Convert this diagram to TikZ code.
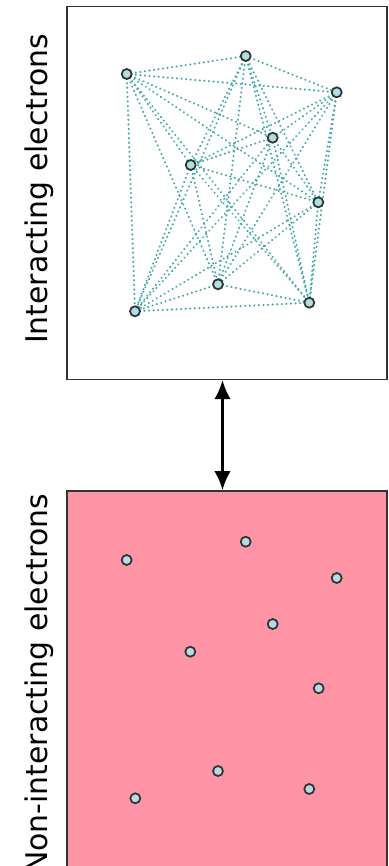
\documentclass[tikz,border=0pt]{standalone}
\usepackage{fontspec}
\setmainfont{DejaVu Sans}
\usepackage{tikz}
\usetikzlibrary{arrows.meta}
\definecolor{linkteal}{RGB}{62,168,170}
\definecolor{elecfill}{RGB}{172,224,228}
\definecolor{boxpink}{RGB}{255,148,166}

\begin{document}
\begin{tikzpicture}[
    % GLOBAL CFG
    x=0.02cm, y=-0.02cm,
    >=Latex,
    % Styles
    box/.style={% For the two frames
        rectangle,
        draw=black!80,
        line width=0.8pt,
        minimum width=6.4cm,
        },
    elec/.style={% For the electrons
        circle,
        draw=black!80,
        line width=1pt,
        fill=elecfill,
        minimum size=0.2cm,
        inner sep=0pt,
        },
    link/.style={% Dotted interaction lines
        draw=linkteal,
        line width=1.3pt,
        line cap=round,
        dash pattern=on 0.01pt off 2.6pt,
        },
    side/.style={% Rotated titles
        rotate=90,
        anchor=base,
        font=\fontsize{17}{20}\selectfont,
        },
    ]

    \useasboundingbox (0,0) rectangle (389,866);
    \clip (0,0) rectangle (389,866);

    % Draw the frames
    \node [box, fill=white, minimum height=7.45cm] (inter) at (227,193) {};
    \node [box, fill=boxpink, minimum height=7.62cm] (noninter) at (227,681.5) {};

    % Titles
    \node [side] (tinter) at (48,189) {Interacting electrons};
    \node [side] (tnoninter) at (48,684) {Non-interacting electrons};

    % Interacting electrons named e#
    \coordinate (e1) at (126.7,74);
    \coordinate (e2) at (245.7,56);
    \coordinate (e3) at (336.7,92.3);
    \coordinate (e4) at (272.7,137.7);
    \coordinate (e5) at (190.7,165);
    \coordinate (e6) at (318.3,202.3);
    \coordinate (e7) at (218,284.3);
    \coordinate (e8) at (309.3,302.7);
    \coordinate (e9) at (135,311.3);

    % Every pair interacts
    \foreach \i [evaluate=\i as \k using int(\i+1)] in {1,...,8}
        \foreach \j in {\k,...,9}
            \draw [link] (e\i) -- (e\j);

    \foreach \i in {1,...,9}
        \node [elec] (c\i) at (e\i) {};

    % Non-interacting electrons named n#
    \node [elec] (n1) at (126.7,560) {};
    \node [elec] (n2) at (245.7,541.7) {};
    \node [elec] (n3) at (336.7,578) {};
    \node [elec] (n4) at (272.7,624) {};
    \node [elec] (n5) at (190.3,651.7) {};
    \node [elec] (n6) at (318.7,688.3) {};
    \node [elec] (n7) at (218,771) {};
    \node [elec] (n8) at (309.3,789) {};
    \node [elec] (n9) at (135.3,798.3) {};

    % Mapping between the two systems
    \draw [{Latex[length=11pt,width=9.5pt]}-{Latex[length=11pt,width=9.5pt]}, line width=1.8pt]
        ([xshift=-0.09cm]inter.south) -- ([xshift=-0.09cm]noninter.north);

\end{tikzpicture}
\end{document}
